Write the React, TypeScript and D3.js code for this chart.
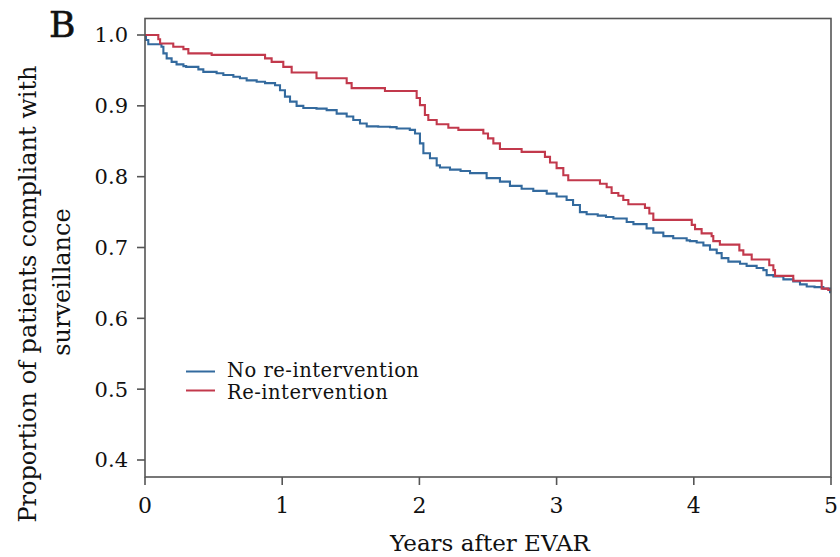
import React from "react";
import * as d3 from "d3";

// ---- Data ----
const noReintTime = [0, 0.007, 0.024, 0.12, 0.134, 0.158, 0.194, 0.23, 0.28, 0.3, 0.389, 0.425, 0.522, 0.571, 0.644, 0.692, 0.741, 0.814, 0.875, 0.948, 0.984, 1.02, 1.057, 1.105, 1.154, 1.25, 1.324, 1.397, 1.47, 1.518, 1.567, 1.616, 1.7, 1.786, 1.834, 1.93, 1.968, 2.004, 2.029, 2.077, 2.126, 2.15, 2.223, 2.3, 2.369, 2.49, 2.587, 2.66, 2.745, 2.83, 2.928, 3.0, 3.073, 3.12, 3.17, 3.219, 3.3, 3.36, 3.414, 3.511, 3.56, 3.656, 3.705, 3.778, 3.85, 3.948, 3.972, 4.021, 4.07, 4.118, 4.167, 4.203, 4.252, 4.337, 4.385, 4.458, 4.507, 4.531, 4.58, 4.653, 4.725, 4.774, 4.823, 4.88, 4.944, 4.993, 5.0];
const noReintSurv = [1.0, 0.993, 0.987, 0.9835, 0.974, 0.967, 0.962, 0.9586, 0.956, 0.955, 0.9515, 0.948, 0.946, 0.9435, 0.941, 0.939, 0.936, 0.934, 0.932, 0.929, 0.922, 0.913, 0.906, 0.9, 0.897, 0.896, 0.894, 0.889, 0.885, 0.88, 0.875, 0.871, 0.8705, 0.87, 0.868, 0.866, 0.861, 0.847, 0.833, 0.826, 0.816, 0.813, 0.81, 0.808, 0.805, 0.798, 0.793, 0.787, 0.783, 0.78, 0.776, 0.772, 0.767, 0.76, 0.75, 0.747, 0.745, 0.743, 0.741, 0.736, 0.733, 0.727, 0.721, 0.716, 0.713, 0.71, 0.709, 0.707, 0.703, 0.697, 0.692, 0.685, 0.68, 0.677, 0.674, 0.671, 0.668, 0.661, 0.659, 0.655, 0.652, 0.648, 0.645, 0.644, 0.642, 0.637, 0.637];

const reintTime = [0, 0.097, 0.11, 0.206, 0.28, 0.316, 0.486, 0.875, 0.923, 1.008, 1.069, 1.25, 1.47, 1.506, 1.749, 1.98, 2.004, 2.04, 2.065, 2.126, 2.211, 2.284, 2.466, 2.5, 2.539, 2.587, 2.745, 2.915, 2.952, 3.0, 3.049, 3.085, 3.316, 3.365, 3.401, 3.45, 3.486, 3.523, 3.644, 3.676, 3.705, 3.985, 4.009, 4.057, 4.13, 4.142, 4.19, 4.332, 4.361, 4.422, 4.55, 4.58, 4.592, 4.725, 4.932, 4.98, 5.0];
const reintSurv = [1.0, 0.994, 0.988, 0.9835, 0.98, 0.974, 0.972, 0.967, 0.962, 0.955, 0.947, 0.939, 0.932, 0.925, 0.921, 0.911, 0.901, 0.887, 0.88, 0.874, 0.869, 0.866, 0.861, 0.854, 0.847, 0.839, 0.835, 0.828, 0.82, 0.812, 0.802, 0.795, 0.79, 0.785, 0.777, 0.773, 0.767, 0.761, 0.756, 0.748, 0.739, 0.732, 0.726, 0.72, 0.716, 0.709, 0.704, 0.696, 0.69, 0.683, 0.675, 0.668, 0.66, 0.653, 0.642, 0.64, 0.64];

const xTicks = [0, 1, 2, 3, 4, 5];
const yTicks = [0.4, 0.5, 0.6, 0.7, 0.8, 0.9, 1.0];
const seriesNames = ["No re-intervention", "Re-intervention"];
const seriesColors = ["#336a9e", "#c2394c"];

const FONT = "'DejaVu Serif', serif";

export default function App() {
  const W = 840, H = 557;
  const left = 145, right = 831, top = 18.5, bottom = 477;
  const x = d3.scaleLinear().domain([0, 5]).range([left, right]);
  const y = d3.scaleLinear().domain([0.4, 1.0]).range([460, 35]);

  const line = d3
    .line<[number, number]>()
    .x((d) => x(d[0]))
    .y((d) => y(d[1]))
    .curve(d3.curveStepAfter);

  const blue = noReintTime.map((t, i) => [t, noReintSurv[i]] as [number, number]);
  const red = reintTime.map((t, i) => [t, reintSurv[i]] as [number, number]);

  const axisColor = "#555";

  return (
    <svg
      width={W}
      height={H}
      style={{ position: "absolute", left: 0, top: 0, background: "#fff" }}
    >
      <rect x={0} y={0} width={W} height={H} fill="#fff" />
      {/* Panel label */}
      <text x={49} y={37} fontFamily={FONT} fontSize={36} fill="#111" stroke="#111" strokeWidth={0.6}>
        B
      </text>

      {/* curves */}
      <path d={line(blue) || ""} fill="none" stroke={seriesColors[0]} strokeWidth={2.1} />
      <path d={line(red) || ""} fill="none" stroke={seriesColors[1]} strokeWidth={2.1} />

      {/* frame */}
      <rect
        x={left}
        y={top}
        width={right - left}
        height={bottom - top}
        fill="none"
        stroke={axisColor}
        strokeWidth={1.6}
      />

      {/* y ticks */}
      {yTicks.map((v) => (
        <g key={"y" + v}>
          <line x1={left - 8} x2={left} y1={y(v)} y2={y(v)} stroke={axisColor} strokeWidth={1.6} />
          <text
            x={left - 17}
            y={y(v)}
            dy="0.35em"
            textAnchor="end"
            fontFamily={FONT}
            fontSize={21}
            fill="#111"
          >
            {v.toFixed(1)}
          </text>
        </g>
      ))}

      {/* x ticks */}
      {xTicks.map((t) => (
        <g key={"x" + t}>
          <line x1={x(t)} x2={x(t)} y1={bottom} y2={bottom + 8} stroke={axisColor} strokeWidth={1.6} />
          <text x={x(t)} y={513} textAnchor="middle" fontFamily={FONT} fontSize={22} fill="#111">
            {t}
          </text>
        </g>
      ))}

      {/* axis titles */}
      <text x={(left + right) / 2 + 2} y={551} textAnchor="middle" fontFamily={FONT} fontSize={23} fill="#111">
        Years after EVAR
      </text>
      <text
        transform={`translate(36, 294) rotate(-90)`}
        textAnchor="middle"
        fontFamily={FONT}
        fontSize={24}
        fill="#111"
      >
        Proportion of patients compliant with
      </text>
      <text
        transform={`translate(70, 282) rotate(-90)`}
        textAnchor="middle"
        fontFamily={FONT}
        fontSize={24}
        fill="#111"
      >
        surveillance
      </text>

      {/* legend */}
      {seriesNames.map((name, i) => (
        <g key={name}>
          <line
            x1={186}
            x2={215}
            y1={371.5 + i * 19}
            y2={371.5 + i * 19}
            stroke={seriesColors[i]}
            strokeWidth={2}
          />
          <text
            x={227}
            y={376.5 + i * 22}
            fontFamily={FONT}
            fontSize={19.5}
            letterSpacing={0.5}
            fill="#111"
          >
            {name}
          </text>
        </g>
      ))}
    </svg>
  );
}
